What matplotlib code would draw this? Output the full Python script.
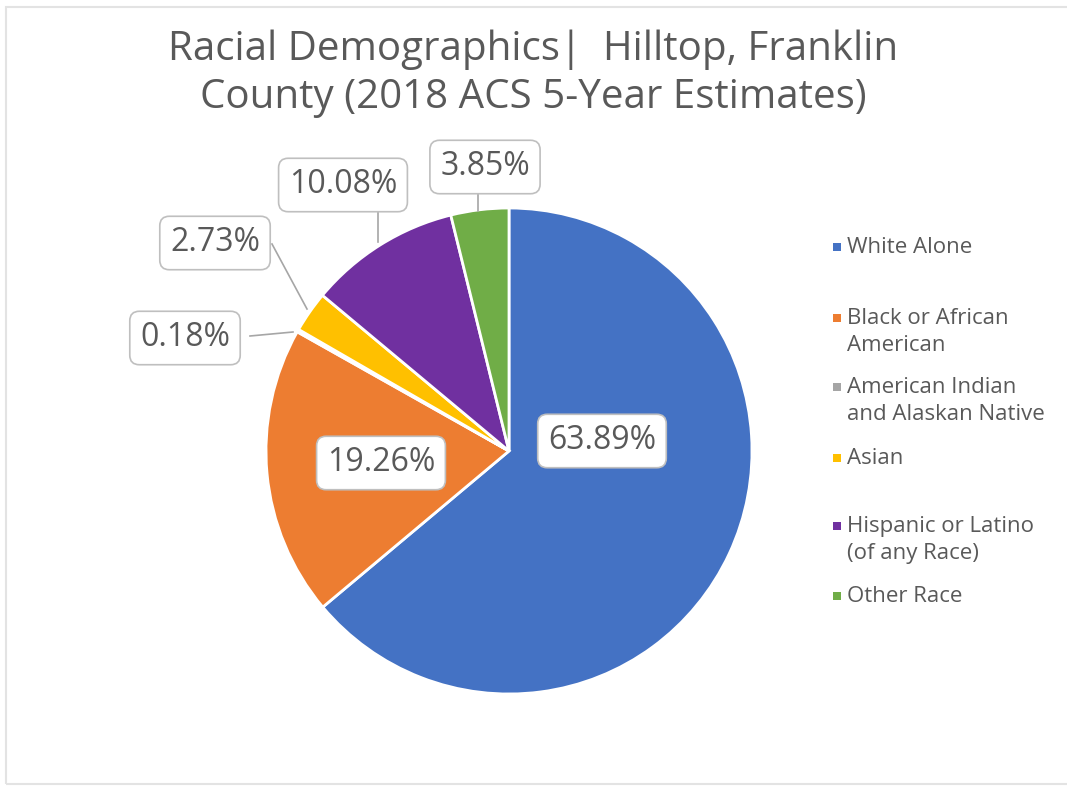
import matplotlib.pyplot as plt
from matplotlib.patches import Rectangle

# data
categories = ['White Alone', 'Black or African\nAmerican', 'American Indian\nand Alaskan Native',
              'Asian', 'Hispanic or Latino\n(of any Race)', 'Other Race']
shares = [63.89, 19.26, 0.18, 2.73, 10.08, 3.85]
colors = ['#4472C4', '#ED7D31', '#A5A5A5', '#FFC000', '#7030A0', '#70AD47']

# layout: label box centres and legend rows (pixels from top-left)
label_px = [(602, 441), (381, 463), (185, 338), (215, 243), (343, 185), (485, 167)]
legend_rows = [247, 318, 387, 458, 526, 596]

text_col = '#595959'
plt.rcParams['font.family'] = ['Open Sans', 'DejaVu Sans']

W, H = 1067, 786
fig = plt.figure(figsize=(W / 100, H / 100), dpi=100)
fig.patches.append(Rectangle((6 / W, 0.003), 1.0, 1 - 9 / H, transform=fig.transFigure,
                             fill=False, edgecolor='#e3e3e3', linewidth=1.5))

cx, cy, r = 509, 451, 243
ax = fig.add_axes([(cx - r) / W, (H - cy - r) / H, 2 * r / W, 2 * r / H])
wedges, _ = ax.pie(shares, colors=colors, startangle=90, counterclock=False, radius=1,
                   wedgeprops=dict(edgecolor='white', linewidth=2))
ax.set_xlim(-1, 1)
ax.set_ylim(-1, 1)
ax.set_aspect('equal')
ax.axis('off')

def px2d(px, py):
    return (px - cx) / r, (cy - py) / r

bbox = dict(boxstyle='round,pad=0.32,rounding_size=0.3', facecolor='white',
            edgecolor='#BFBFBF', linewidth=1.2)
for v, (px, py) in zip(shares, label_px):
    lx, ly = px2d(px, py)
    ax.text(lx, ly, f'{v:.2f}%', ha='center', va='center', fontsize=23,
            color=text_col, bbox=bbox, zorder=5)

# leader lines for the outside labels (pixel end points)
leaders = [((250, 336), (293, 332)),
           ((272, 244), (307, 309)),
           ((378, 211), (378, 242)),
           ((478, 191), (478, 211))]
for p0, p1 in leaders:
    a, b = px2d(*p0), px2d(*p1)
    ax.plot([a[0], b[0]], [a[1], b[1]], color='#A6A6A6', lw=1.2, zorder=1,
            clip_on=False)

fig.text(0.5, 1 - 74 / H, 'Racial Demographics|  Hilltop, Franklin\nCounty (2018 ACS 5-Year Estimates)',
         ha='center', va='center', fontsize=29, color=text_col, linespacing=1.24)

for cat, col, row in zip(categories, colors, legend_rows):
    y = 1 - row / H
    fig.patches.append(Rectangle((833 / W, y - 4 / H), 8 / W, 8 / H,
                                 transform=fig.transFigure, facecolor=col, edgecolor='none'))
    fig.text(847 / W, y + 10 / H, cat, ha='left', va='top', fontsize=16,
             color=text_col, linespacing=1.38)

fig.savefig('out.png', dpi=100)
